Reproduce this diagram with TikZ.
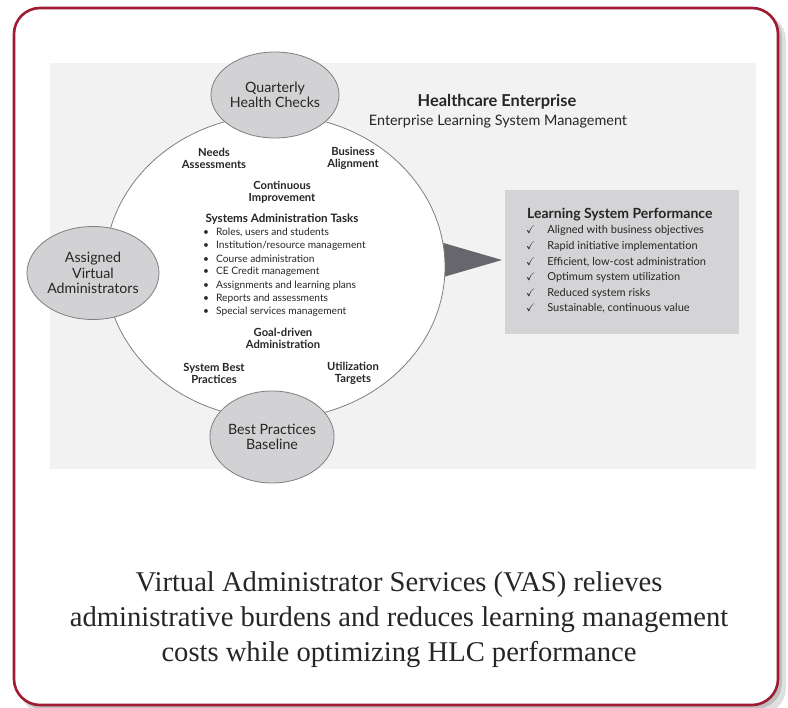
\documentclass[tikz,border=0pt]{standalone}
\usepackage{fontspec}
\usepackage{amssymb}
\usetikzlibrary{shapes.geometric}
\setmainfont{Liberation Serif}
\newfontfamily\gillfont{Lato}
\definecolor{framered}{HTML}{9E1B32}
\definecolor{panelgray}{HTML}{F2F2F3}
\definecolor{boxgray}{HTML}{D4D4D6}
\definecolor{ellgray}{HTML}{D2D2D4}
\definecolor{arrowgray}{HTML}{66666C}
\definecolor{linegray}{HTML}{7F7F82}
\definecolor{inkgray}{HTML}{262626}
\tikzset{
  bubble/.style={ellipse, draw=linegray, fill=ellgray, line width=0.8pt, inner sep=0pt,
    align=center, text=inkgray, font=\gillfont\fontsize{14.2}{15.5}\selectfont},
  boldtag/.style={align=center, inner sep=0pt, text=inkgray,
    font=\gillfont\bfseries\fontsize{11.2}{12}\selectfont},
  listline/.style={anchor=west, inner sep=0pt, text=inkgray,
    font=\gillfont\fontsize{10.2}{11}\selectfont}
}
\begin{document}
\begin{tikzpicture}[x=1pt,y=-1pt]
  \useasboundingbox (0,0) rectangle (788,708);
  % frame with shadow
  \fill[black!12, rounded corners=26pt] (20,14) rectangle (786,714);
  \fill[black!25, rounded corners=26pt] (17,11) rectangle (782,709);
  \draw[framered, line width=2.6pt, fill=white, rounded corners=26pt] (14,8) rectangle (778,705);
  % panel
  \fill[panelgray] (50,63) rectangle (756,469);
  \fill[boxgray] (505,190) rectangle (739,334);
  \fill[arrowgray] (440,242) -- (502,260) -- (440,278) -- cycle;
  \node[ellipse, draw=linegray, fill=white, line width=0.8pt,
        minimum width=340pt, minimum height=304pt] (loop) at (275,267) {};
  % bubbles
  \node[bubble, minimum width=128pt, minimum height=86pt] (qhc) at (275,95) {Quarterly\\Health Checks};
  \node[bubble, minimum width=132pt, minimum height=93pt] (ava) at (93,273) {Assigned\\Virtual\\Administrators};
  \node[bubble, minimum width=122pt, minimum height=92pt] (bpb) at (272,437) {Best Practices\\Baseline};
  % headings
  \node[boldtag, font=\gillfont\bfseries\fontsize{16.4}{18}\selectfont] (he) at (497,102) {Healthcare Enterprise};
  \node[boldtag, font=\gillfont\fontsize{14.4}{16}\selectfont] (elsm) at (498,122) {Enterprise Learning System Management};
  % labels in the loop
  \node[boldtag] (needs) at (214,158) {Needs\\Assessments};
  \node[boldtag] (align) at (353,158) {Business\\Alignment};
  \node[boldtag] (cont) at (282,192) {Continuous\\Improvement};
  \node[boldtag, font=\gillfont\bfseries\fontsize{11.6}{12}\selectfont] (sat) at (282,219) {Systems Administration Tasks};
  \node[boldtag] (goal) at (283,338) {Goal-driven\\Administration};
  \node[boldtag] (sbp) at (214,373) {System Best\\Practices};
  \node[boldtag] (util) at (353,373) {Utilization\\Targets};
  \foreach \t [count=\i] in {{Roles, users and students},{Institution/resource management},
      {Course administration},{CE Credit management},{Assignments and learning plans},
      {Reports and assessments},{Special services management}}
    \node[listline] (task\i) at (203,218.7+13.33*\i) {\textbullet\hspace{7pt}\t};
  % performance box
  \node[boldtag, anchor=west, font=\gillfont\bfseries\fontsize{14}{15}\selectfont] (lsp) at (527,215) {Learning System Performance};
  \foreach \t [count=\i] in {{Aligned with business objectives},{Rapid initiative implementation},
      {Efficient, low-cost administration},{Optimum system utilization},
      {Reduced system risks},{Sustainable, continuous value}}
    \node[listline, font=\gillfont\fontsize{11}{12}\selectfont] (perf\i) at (526,215+15.6*\i) {$\checkmark$\hspace{12pt}\t};
  % caption
  \node[align=center, inner sep=0pt, text=inkgray, font=\fontsize{28.6}{35}\selectfont] (cap) at (399,620)
    {Virtual Administrator Services (VAS) relieves\\administrative burdens and reduces learning management\\costs while optimizing HLC performance};
\end{tikzpicture}
\end{document}
